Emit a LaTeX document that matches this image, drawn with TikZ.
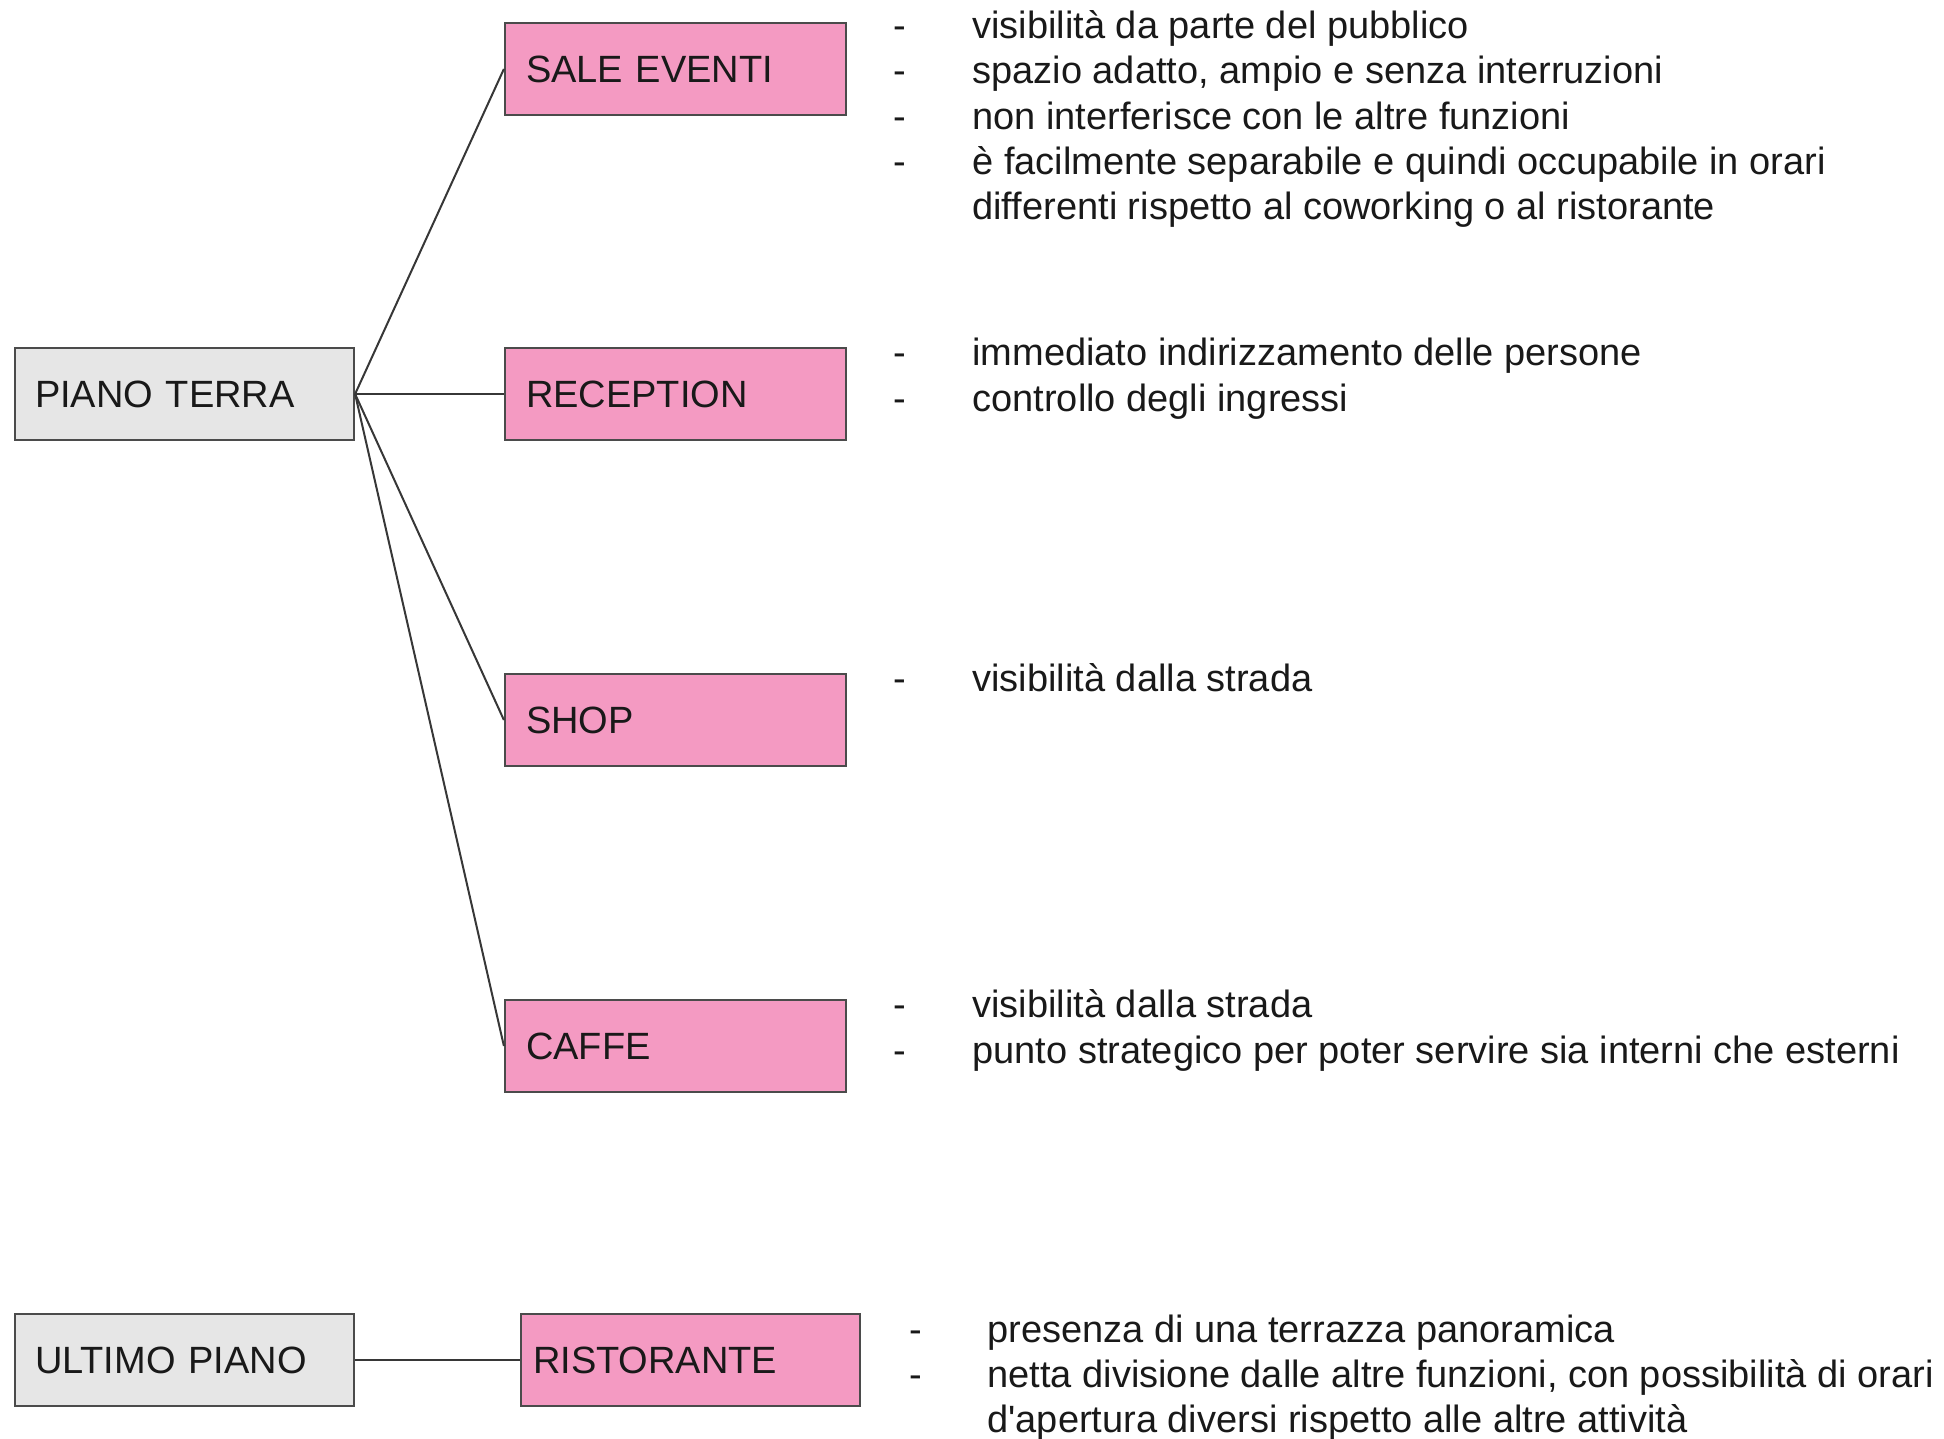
\documentclass[tikz,border=0pt]{standalone}
\usepackage{fontspec}
\setmainfont{Liberation Sans}
\definecolor{pinkfill}{RGB}{244,154,194}
\definecolor{grayfill}{RGB}{230,230,230}
\definecolor{edgegray}{RGB}{75,75,75}
\definecolor{linkgray}{RGB}{55,55,55}
\definecolor{inkcol}{RGB}{25,25,25}
\begin{document}
\begin{tikzpicture}[x=0.5pt, y=-0.5pt,
  every node/.style={font=\fontsize{19}{22.8}\selectfont, text=inkcol},
  boxbase/.style={draw=edgegray, line width=1.1pt, minimum height=46pt,
    inner ysep=0pt, text height=13.5pt, text depth=0pt, align=left},
  floorbox/.style={boxbase, fill=grayfill, inner xsep=10pt, text width=149.5pt},
  areabox/.style={boxbase, fill=pinkfill, inner xsep=10.5pt, text width=149.5pt},
  roofbox/.style={boxbase, fill=pinkfill, inner xsep=6pt, text width=157.5pt},
  link/.style={draw=linkgray, line width=1pt},
  note/.style={anchor=base west, inner sep=0pt},
  dashmark/.style={anchor=base west, inner sep=0pt}]

\useasboundingbox (0,0) rectangle (1944,1439);

% floors
\node[floorbox] (terra) at (184.5,394) {PIANO TERRA};
\node[floorbox] (ultimo) at (184.5,1360) {ULTIMO PIANO};

% functions
\node[areabox] (eventi) at (675.5,69) {SALE EVENTI};
\node[areabox] (reception) at (675.5,394) {RECEPTION};
\node[areabox] (shop) at (675.5,720) {SHOP};
\node[areabox] (caffe) at (675.5,1046) {CAFFE};
\node[roofbox] (ristorante) at (690.5,1360) {RISTORANTE};

% connectors
\draw[link] (terra.east) -- (eventi.west);
\draw[link] (terra.east) -- (reception.west);
\draw[link] (terra.east) -- (shop.west);
\draw[link] (terra.east) -- (caffe.west);
\draw[link] (ultimo.east) -- (ristorante.west);

% notes: sale eventi
\node[dashmark] (d1) at (893,39) {-};
\node[note] (n1) at (972,39) {visibilità da parte del pubblico};
\node[dashmark] (d2) at (893,84) {-};
\node[note] (n2) at (972,84) {spazio adatto, ampio e senza interruzioni};
\node[dashmark] (d3) at (893,130) {-};
\node[note] (n3) at (972,130) {non interferisce con le altre funzioni};
\node[dashmark] (d4) at (893,175) {-};
\node[note] (n4) at (972,175) {è facilmente separabile e quindi occupabile in orari};
\node[note] (n4b) at (972,220) {differenti rispetto al coworking o al ristorante};

% notes: reception
\node[dashmark] (d5) at (893,365) {-};
\node[note] (n5) at (972,365) {immediato indirizzamento delle persone};
\node[dashmark] (d6) at (893,411) {-};
\node[note] (n6) at (972,411) {controllo degli ingressi};

% notes: shop
\node[dashmark] (d7) at (893,691) {-};
\node[note] (n7) at (972,691) {visibilità dalla strada};

% notes: caffe
\node[dashmark] (d8) at (893,1017) {-};
\node[note] (n8) at (972,1017) {visibilità dalla strada};
\node[dashmark] (d9) at (893,1063) {-};
\node[note] (n9) at (972,1063) {punto strategico per poter servire sia interni che esterni};

% notes: ristorante
\node[dashmark] (d10) at (909,1342) {-};
\node[note] (n10) at (987,1342) {presenza di una terrazza panoramica};
\node[dashmark] (d11) at (909,1387) {-};
\node[note] (n11) at (987,1387) {netta divisione dalle altre funzioni, con possibilità di orari};
\node[note] (n11b) at (987,1432) {d\textquotesingle apertura diversi rispetto alle altre attività};

\end{tikzpicture}
\end{document}
